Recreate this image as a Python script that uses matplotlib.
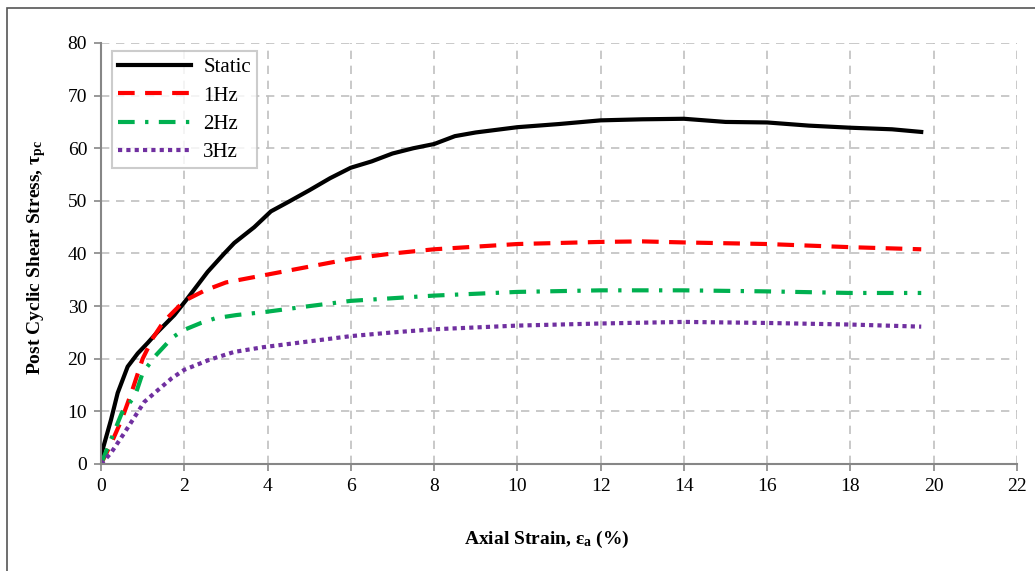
import numpy as np
import matplotlib
matplotlib.use("Agg")
from matplotlib import pyplot as plt
from matplotlib.patches import Rectangle

plt.rcParams['font.family'] = ['Liberation Serif', 'DejaVu Serif']
plt.rcParams['mathtext.fontset'] = 'custom'
plt.rcParams['mathtext.rm'] = 'Liberation Serif'
plt.rcParams['mathtext.bf'] = 'Liberation Serif:bold'
plt.rcParams['mathtext.it'] = 'Liberation Serif:italic'

# Curve data
static_x = [0, 0.03, 0.24, 0.4, 0.64, 0.88, 1.12, 1.36, 1.76, 2.08, 2.56, 2.96, 3.2, 3.68,
            4.08, 4.5, 5.0, 5.5, 6.0, 6.5, 7.0, 7.5, 8.0, 8.5, 9.0, 10.0, 10.5, 11.0,
            12.0, 13.0, 14.0, 15.0, 16.0, 17.0, 18.0, 19.0, 19.7]
static_y = [0, 2.5, 8.4, 13.5, 18.5, 21, 23, 25.1, 28.3, 31.5, 36.5, 40, 42, 45,
            48, 49.8, 52, 54.3, 56.3, 57.5, 59, 60, 60.8, 62.3, 63, 64, 64.3, 64.6,
            65.3, 65.5, 65.6, 65, 64.9, 64.3, 63.9, 63.6, 63.1]

hz1_x = [0, 0.25, 0.5, 0.75, 1.0, 1.25, 1.5, 2.0, 2.5, 3.0, 4.0, 5.0, 6.0, 7.0, 8.0,
         10.0, 12.0, 13.0, 14.0, 16.0, 18.0, 19.7]
hz1_y = [0, 4, 8.5, 14, 20, 24, 27, 31, 33, 34.5, 36, 37.5, 39, 40, 40.8,
         41.8, 42.2, 42.3, 42.1, 41.8, 41.2, 40.8]

hz2_x = [0, 0.5, 0.82, 1.0, 1.3, 1.71, 1.97, 2.4, 2.75, 3.25, 3.95, 5.0, 6.0, 7.0, 8.0,
         10.0, 12.0, 14.0, 16.0, 18.0, 19.7]
hz2_y = [0, 9.7, 13, 17.3, 20.5, 24, 25.4, 26.8, 27.7, 28.3, 28.9, 30, 31, 31.5, 32,
         32.7, 33, 33, 32.8, 32.5, 32.5]

hz3_x = [0, 0.24, 0.56, 1.04, 1.36, 1.7, 2.0, 2.6, 3.2, 3.9, 5.0, 6.0, 7.0, 8.0, 10.0,
         12.0, 14.0, 16.0, 18.0, 19.7]
hz3_y = [0, 2.1, 5.9, 11.8, 14, 16.3, 17.9, 19.8, 21.3, 22.2, 23.3, 24.3, 25, 25.6, 26.3,
         26.7, 27, 26.8, 26.5, 26.1]

fig = plt.figure(figsize=(10.35, 5.71), dpi=100)
ax = fig.add_axes([0.0976, 0.1874, 0.8850, 0.7373])

# grey frame round the figure (right/bottom edges fall outside the image)
fig.patches.append(Rectangle((7 / 1035, -0.1), 1.2, (571 - 8) / 571 + 0.1,
                             transform=fig.transFigure, fill=False,
                             edgecolor='#555555', linewidth=1.2))

ax.plot(static_x, static_y, color='black', lw=3, label='Static')
ax.plot(hz1_x, hz1_y, color='#ff0000', lw=3, linestyle=(0, (4, 2.5)), label='1Hz')
ax.plot(hz2_x, hz2_y, color='#00b050', lw=3, linestyle=(0, (4, 2.5, 0.8, 2.5)), label='2Hz')
ax.plot(hz3_x, hz3_y, color='#7030a0', lw=3, linestyle=(0, (1, 1)), label='3Hz')

ax.set_xlim(0, 22)
ax.set_ylim(0, 80)
ax.set_xticks(np.arange(0, 23, 2))
ax.set_yticks(np.arange(0, 81, 10))
ax.grid(True, color='#c0c0c0', linestyle=(0, (5, 4)), linewidth=1.2)
ax.set_axisbelow(True)
for s in ['top', 'right']:
    ax.spines[s].set_visible(False)
for s in ['left', 'bottom']:
    ax.spines[s].set_color('#868686')
    ax.spines[s].set_linewidth(1.5)
ax.tick_params(axis='both', direction='out', length=5, color='#868686', width=1.2,
               labelsize=14, pad=5)

ax.set_xlabel(r'Axial Strain, ε$_\mathbf{a}$ (%)', fontsize=14, fontweight='bold')
ax.xaxis.set_label_coords(0.487, -0.155)
ax.set_ylabel(r'Post Cyclic Shear Stress, τ$_\mathbf{pc}$', fontsize=14,
              fontweight='bold')
ax.yaxis.set_label_coords(-0.058, 0.49)

leg = ax.legend(loc='upper left', bbox_to_anchor=(0.007, 0.99), fontsize=15,
                frameon=True, fancybox=False, edgecolor='#c0c0c0', handlelength=3.5,
                borderpad=0.3, labelspacing=0.42, handletextpad=0.6,
                borderaxespad=0.2)
leg.get_frame().set_linewidth(1.5)

fig.savefig('out.png', dpi=100)
